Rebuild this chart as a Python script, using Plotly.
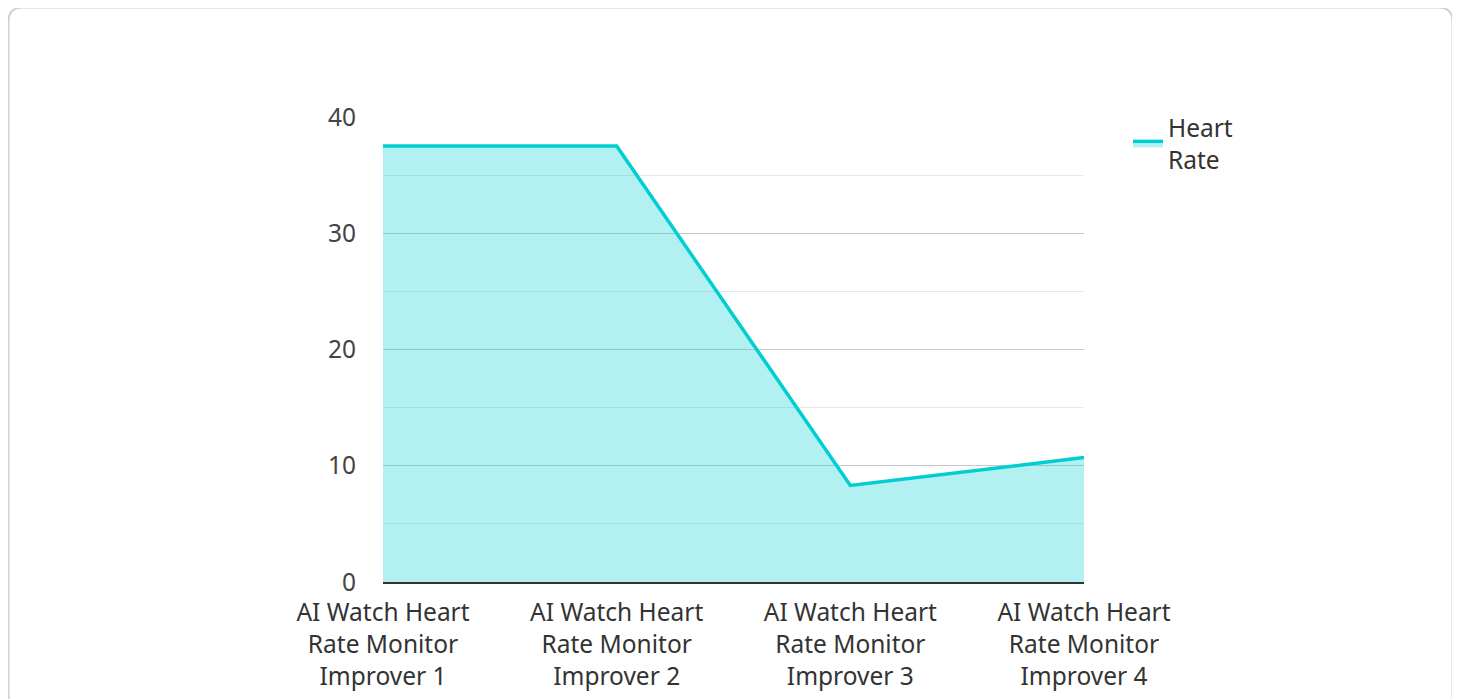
import plotly.graph_objects as go

categories = ["AI Watch Heart<br>Rate Monitor<br>Improver 1",
              "AI Watch Heart<br>Rate Monitor<br>Improver 2",
              "AI Watch Heart<br>Rate Monitor<br>Improver 3",
              "AI Watch Heart<br>Rate Monitor<br>Improver 4"]
heart_rate = [37.5, 37.5, 8.3, 10.7]
series_name = "Heart<br>Rate"
y_ticks = [0, 10, 20, 30, 40]

# the page body adds an 8px offset; work in figure coordinates
OFF = 8
W, H = 1460, 699
L, R, T, B = 383 - OFF, 1084 - OFF, 117 - OFF, 582 - OFF
pw, ph = R - L, B - T

def px(x):
    return (x - OFF - L) / pw

def py(y):
    return (B - (y - OFF)) / ph

fig = go.Figure()
fig.add_trace(go.Scatter(
    x=list(range(len(categories))), y=heart_rate, name=series_name,
    mode="lines", fill="tozeroy",
    line=dict(color="#00CED1", width=3.5),
    fillcolor="rgba(0,206,209,0.3)",
    showlegend=True,
))

# card border path (rounded corners), paper coordinates (screen px inputs)
x0, x1, y0, y1, r = 8.5, 1452.5, 7.5, 730, 14
path = (f"M {px(x0)},{py(y1)} L {px(x0)},{py(y0 + r)} "
        f"Q {px(x0)},{py(y0)} {px(x0 + r)},{py(y0)} "
        f"L {px(x1 - r)},{py(y0)} Q {px(x1)},{py(y0)} {px(x1)},{py(y0 + r)} "
        f"L {px(x1)},{py(y1)}")
fig.add_shape(type="path", path=path, xref="paper", yref="paper",
              line=dict(color="#d0d0d0", width=2), layer="below")

FS = 24.5
fig.update_layout(
    width=W, height=H,
    margin=dict(l=L, r=W - R, t=T, b=H - B, pad=0),
    paper_bgcolor="white", plot_bgcolor="white",
    font=dict(family="Noto Sans", size=FS, color="#444"),
    legend=dict(x=px(1128), y=py(105), xanchor="left", yanchor="top",
                font=dict(size=FS, color="#333"), bgcolor="rgba(0,0,0,0)"),
    xaxis=dict(range=[0, 3], tickvals=list(range(len(categories))),
               ticktext=categories, showgrid=False, zeroline=False,
               showline=True, linecolor="#333", linewidth=2,
               ticks="outside", ticklen=8, tickcolor="rgba(0,0,0,0)",
               tickfont=dict(size=FS, color="#333")),
    yaxis=dict(range=[0, 40], tickvals=y_ticks, showgrid=True,
               gridcolor="#c8c8c8", gridwidth=1, zeroline=False,
               ticks="outside", ticklen=21, tickcolor="rgba(0,0,0,0)",
               tickfont=dict(size=FS, color="#444"),
               minor=dict(dtick=5, showgrid=True, gridcolor="#e8e8e8",
                          gridwidth=1)),
)

fig.write_html("out.html")
